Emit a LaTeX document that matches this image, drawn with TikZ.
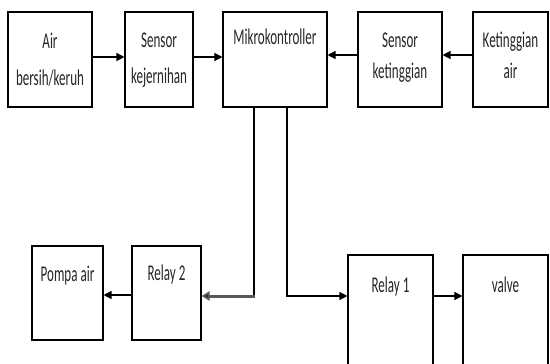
\documentclass[tikz,border=0pt]{standalone}
\usepackage{fontspec}
\setmainfont[FakeStretch=0.58]{Carlito}
\usetikzlibrary{arrows.meta}
\begin{document}
\begin{tikzpicture}[x=1pt,y=1pt,
  box/.style={draw=black,line width=1.1pt,fill=white,inner sep=0pt},
  lbl/.style={font=\fontsize{22.5}{33}\selectfont,align=center,anchor=base,inner sep=0pt,text=black!85},
  conn/.style={line width=1.3pt,-{Triangle[length=8pt,width=8pt]}}]
\useasboundingbox (0,0) rectangle (550,-364);
% boxes: corners given as (x1,y1)-(x2,y2)
\newcommand{\mybox}[5]{\node[box,minimum width=#4-#2,minimum height=#5-#3] (#1) at ({(#2+#4)/2},{-(#3+#5)/2}) {};}
\mybox{air}{8}{12}{92}{107}
\mybox{sk}{125}{12}{193}{107}
\mybox{mk}{223}{12}{327}{107}
\mybox{skt}{358}{12}{442}{107}
\mybox{ka}{473}{12}{548}{107}
\mybox{pompa}{32}{246}{103}{340}
\mybox{rtwo}{132}{246}{201}{340}
\mybox{rone}{348}{255}{433}{372}
\mybox{valve}{463}{255}{548}{372}
% labels (anchor = baseline of the last line)
\node[lbl,font=\fontsize{22.5}{37}\selectfont] at (50,-85) {Air\\bersih/keruh};
\node[lbl,font=\fontsize{22.5}{36}\selectfont] at (159,-83) {Sensor\\kejernihan};
\node[lbl] at (275,-45) {Mikrokontroller};
\node[lbl,font=\fontsize{22.5}{31}\selectfont] at (400,-78) {Sensor\\ketinggian};
\node[lbl,font=\fontsize{22.5}{31}\selectfont] at (510.5,-78) {Ketinggian\\air};
\node[lbl] at (67.5,-281) {Pompa air};
\node[lbl] at (166.5,-280) {Relay 2};
\node[lbl] at (390.5,-292) {Relay 1};
\node[lbl] at (505.5,-292) {valve};
% connectors
\draw[conn] (air.east |- 0,-57) -- (sk.west |- 0,-57);
\draw[conn] (sk.east |- 0,-57) -- (mk.west |- 0,-57);
\draw[conn] (skt.west |- 0,-55) -- (mk.east |- 0,-55);
\draw[conn] (ka.west |- 0,-55) -- (skt.east |- 0,-55);
\coordinate (m2) at (254,-107);
\coordinate (c2) at (254,-296);
\coordinate (m1) at (287,-107);
\coordinate (c1) at (287,-296);
\draw[line width=1.1pt] (m2) -- (c2);
\draw[conn,line width=3pt,draw=black!65,-{Triangle[length=8pt,width=9pt,fill=black]}] ([xshift=0.6pt]c2) -- (rtwo.east |- c2);
\draw[conn,line width=1.1pt] (m1) -- (c1) -- (rone.west |- c1);
\draw[conn] (rtwo.west |- 0,-295) -- (pompa.east |- 0,-295);
\draw[conn] (rone.east |- 0,-296) -- (valve.west |- 0,-296);
\end{tikzpicture}
\end{document}
